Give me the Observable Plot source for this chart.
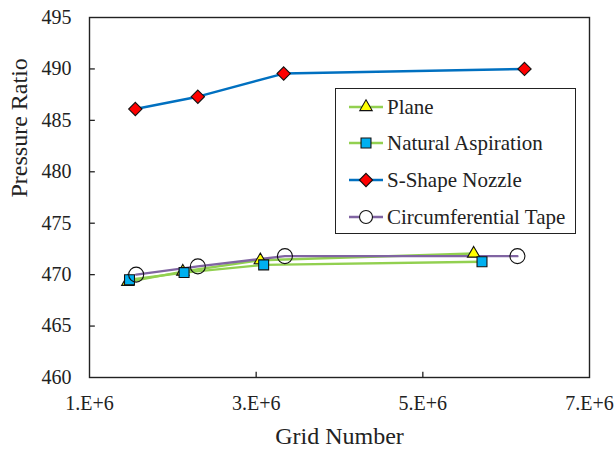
<!DOCTYPE html>
<html>
<head>
<meta charset="utf-8">
<script src="https://cdn.jsdelivr.net/npm/d3@7"></script>
<script src="https://cdn.jsdelivr.net/npm/@observablehq/plot@0.6"></script>
<style>
  html, body { margin: 0; padding: 0; background: #fff; }
  #wrap { position: relative; width: 616px; height: 449px; font-family: "Liberation Serif", "Tinos", "DejaVu Serif", serif; }
  #wrap svg text { font-family: "Liberation Serif", "Tinos", "DejaVu Serif", serif; }
  #legend { position: absolute; left: 335px; top: 88px; width: 241px; height: 146px; border: 1.5px solid #222; background: #fff; box-sizing: border-box; }
  .row { position: absolute; left: 12px; height: 24px; display: flex; align-items: center; font-size: 21px; color: #222; white-space: nowrap; }
  .row svg { margin-right: 3px; }
</style>
</head>
<body>
<div id="wrap"></div>
<script>
// ---- data ----
const seriesNames = ["Plane", "Natural Aspiration", "S-Shape Nozzle", "Circumferential Tape"];
const planeX = [1.46e6, 2.12e6, 3.05e6, 5.61e6];
const planeY = [469.3, 470.3, 471.4, 472.05];
const naturalX = [1.48e6, 2.135e6, 3.09e6, 5.71e6];
const naturalY = [469.5, 470.2, 470.95, 471.25];
const sshapeX = [1.55e6, 2.30e6, 3.33e6, 6.22e6];
const sshapeY = [486.1, 487.3, 489.55, 490.0];
const circX = [1.56e6, 2.30e6, 3.345e6, 6.135e6];
const circY = [470.0, 470.8, 471.8, 471.8];
const xTicks = [1e6, 3e6, 5e6, 7e6];
const yTicks = [460, 465, 470, 475, 480, 485, 490, 495];
const xTitle = "Grid Number";
const yTitle = "Pressure Ratio";

// ---- styles ----
const styles = {
  "Plane": {stroke: "#92d050", symbol: "triangle", fill: "#ffff00", r: 4.6},
  "Natural Aspiration": {stroke: "#92d050", symbol: "square", fill: "#00b0f0", r: 5.6},
  "S-Shape Nozzle": {stroke: "#0070c0", symbol: "diamond2", fill: "#ff0000", r: 6},
  "Circumferential Tape": {stroke: "#8064a2", symbol: "circle", fill: "none", r: 7.5}
};

const xs = [planeX, naturalX, sshapeX, circX];
const ys = [planeY, naturalY, sshapeY, circY];
const rows = seriesNames.flatMap((name, i) => xs[i].map((x, j) => ({series: name, x, y: ys[i][j]})));

const lineMarks = seriesNames.map(name => Plot.line(rows.filter(d => d.series === name), {
  x: "x", y: "y", stroke: styles[name].stroke, strokeWidth: 2.4
}));
const dotMarks = seriesNames.map(name => Plot.dot(rows.filter(d => d.series === name), {
  x: "x", y: "y", symbol: () => styles[name].symbol, r: styles[name].r,
  fill: styles[name].fill, stroke: "#111", strokeWidth: 1.1
}));

const yMin = yTicks[0], yMax = yTicks[yTicks.length - 1];
const xMin = xTicks[0], xMax = xTicks[xTicks.length - 1];
const serif = "'Liberation Serif', 'Tinos', 'DejaVu Serif', serif";

const chart = Plot.plot({
  width: 616,
  height: 449,
  marginLeft: 89,
  marginRight: 27,
  marginTop: 17,
  marginBottom: 72,
  style: {fontFamily: serif, fontSize: "20px", color: "#222", background: "#fff"},
  symbol: {type: "identity"},
  x: {domain: [xMin, xMax]},
  y: {domain: [yMin, yMax]},
  marks: [
    ...lineMarks,
    ...dotMarks,
    Plot.ruleX(xTicks.slice(1, -1), {x: d => d, y1: yMin, y2: yMin + 0.5, stroke: "#222", strokeWidth: 1.3}),
    Plot.ruleY(yTicks.slice(1, -1), {y: d => d, x1: xMin, x2: xMin + 0.07e6, stroke: "#222", strokeWidth: 1.3}),
    Plot.frame({stroke: "#222", strokeWidth: 1.4}),
    Plot.axisX(xTicks, {tickSize: 0, tickPadding: 18, tickFormat: d => `${d / 1e6}.E+6`, label: null, fontSize: 20, fontFamily: serif}),
    Plot.axisY(yTicks, {tickSize: 0, tickPadding: 18, label: null, fontSize: 20, fontFamily: serif}),
    Plot.text([xTitle], {frameAnchor: "bottom", dy: 59, text: d => d, fontSize: 24, fontFamily: serif, fill: "#222", lineAnchor: "middle"}),
    Plot.text([yTitle], {frameAnchor: "left", dx: -70, rotate: -90, text: d => d, fontSize: 24, fontFamily: serif, fill: "#222", lineAnchor: "middle"})
  ]
});

const wrap = document.getElementById("wrap");
wrap.appendChild(chart);

// ---- legend ----
const legend = document.createElement("div");
legend.id = "legend";
const rowTops = [6, 42, 79, 116];
seriesNames.forEach((name, i) => {
  const s = styles[name];
  const row = document.createElement("div");
  row.className = "row";
  row.style.top = rowTops[i] + "px";
  const sw = d3.create("svg").attr("width", 36).attr("height", 20);
  sw.append("line").attr("x1", 1).attr("x2", 35).attr("y1", 10).attr("y2", 10).attr("stroke", s.stroke).attr("stroke-width", 2.4);
  const symMap = {triangle: d3.symbolTriangle, square: d3.symbolSquare, diamond2: d3.symbolDiamond2, circle: d3.symbolCircle};
  sw.append("path")
    .attr("transform", "translate(18,10)")
    .attr("d", d3.symbol(symMap[s.symbol], Math.PI * s.r * s.r * (s.symbol === "circle" ? 0.75 : 1))())
    .attr("fill", s.fill === "none" ? "#fff" : s.fill)
    .attr("stroke", "#111").attr("stroke-width", 1.1);
  row.appendChild(sw.node());
  const t = document.createElement("span");
  t.textContent = name;
  row.appendChild(t);
  legend.appendChild(row);
});
wrap.appendChild(legend);
</script>
</body>
</html>
